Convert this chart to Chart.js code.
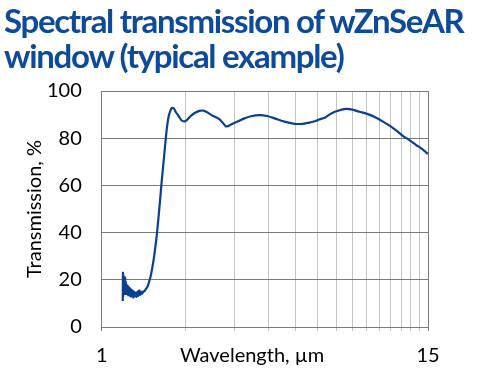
<!DOCTYPE html>
<html>
<head>
<meta charset="utf-8">
<script src="https://cdn.jsdelivr.net/npm/chart.js@4"></script>
<style>
  html, body { margin: 0; padding: 0; background: #fff; }
  #wrap { position: relative; width: 485px; height: 374px; overflow: hidden; }
  #title {
    position: absolute; left: 4px; top: 3px;
    font: bold 33px Lato, "Open Sans", sans-serif;
    letter-spacing: -1.3px;
    line-height: 35px; color: #0e4a9b; white-space: nowrap;
  }
  #specChart { position: absolute; left: 0; top: 0; }
</style>
</head>
<body>
<div id="wrap">
  <canvas id="specChart" width="485" height="374"></canvas>
  <div id="title">Spectral transmission of wZnSeAR<br>window (typical example)</div>
</div>
<script>
// Wavelength (um) and transmission (%)
const wavelength = [
  1.19, 1.192, 1.194, 1.196, 1.198, 1.201, 1.204, 1.207, 1.21, 1.213,
  1.217, 1.221, 1.225, 1.229, 1.234, 1.239, 1.244, 1.25, 1.256, 1.262,
  1.268, 1.275, 1.282, 1.29, 1.298, 1.306, 1.315, 1.324, 1.333, 1.343,
  1.353, 1.363, 1.374, 1.385, 1.397, 1.41, 1.425, 1.44, 1.46, 1.48,
  1.5, 1.52, 1.54, 1.56, 1.58, 1.6, 1.62, 1.645, 1.67, 1.695,
  1.715, 1.74, 1.765, 1.79, 1.82, 1.85, 1.89, 1.94, 2.0, 2.05,
  2.1, 2.17, 2.25, 2.32, 2.38, 2.45, 2.52, 2.59, 2.66, 2.74,
  2.8, 2.85, 2.9, 3.0, 3.1, 3.25, 3.45, 3.7, 3.95, 4.2,
  4.55, 4.95, 5.3, 5.6, 5.9, 6.0, 6.1, 6.4, 6.7, 7.1,
  7.6, 8.0, 8.5, 9.1, 9.8, 10.4, 11.0, 11.6, 12.2, 12.9,
  13.6, 14.3, 15
];
const transmission = [
  11, 23, 13, 22, 14, 21, 15, 20, 14, 21,
  15, 19, 14, 18, 14, 17.5, 13.5, 17, 13.5, 16.5,
  13, 16, 13, 15.5, 12.5, 15, 13, 14.5, 12.8, 15,
  13.2, 15.5, 13.6, 15, 14, 15, 15.2, 16, 17, 19,
  21.5, 25, 29, 34, 39.5, 46, 53, 62, 70, 78,
  84, 89, 91.5, 92.8, 92.6, 91, 89.5, 87.5, 87.2, 88.3,
  89.6, 90.8, 91.6, 91.7, 91.2, 90.3, 89.4, 88.8, 88, 86.3,
  85, 85.1, 85.6, 86.4, 87.2, 88.3, 89.3, 89.8, 89.4, 88.4,
  87, 86.1, 86.1, 86.6, 87.3, 87.6, 88, 88.8, 90.4, 91.6,
  92.4, 92.1, 91.2, 90.2, 88.6, 86.8, 85, 83, 80.9, 79.1,
  77.1, 75.4, 73.3
];
const xTicks = [1, 2, 3, 4, 5, 6, 7, 8, 9, 10, 11, 12, 13, 14, 15];
const xLabels = { 1: "1", 15: "15" };
const yTicks = [0, 20, 40, 60, 80, 100];

const points = wavelength.map((w, i) => ({ x: w, y: transmission[i] }));
const tickFont = { family: "Lato, 'Open Sans', sans-serif", size: 20 };

const ctx = document.getElementById("specChart").getContext("2d");
new Chart(ctx, {
  type: "line",
  data: {
    datasets: [{
      data: points,
      borderColor: "#0b3f92",
      borderWidth: 2.2,
      pointRadius: 0,
      tension: 0.25,
      fill: false
    }]
  },
  options: {
    responsive: false,
    animation: false,
    layout: { padding: { left: 4, right: 57, top: 91, bottom: 0 } },
    plugins: {
      legend: { display: false },
      tooltip: { enabled: false },
      title: { display: false }
    },
    scales: {
      x: {
        type: "logarithmic",
        min: 1,
        max: 15,
        afterBuildTicks: axis => { axis.ticks = xTicks.map(v => ({ value: v })); },
        ticks: {
          autoSkip: false,
          maxRotation: 0,
          color: "#000",
          font: tickFont,
          padding: 13,
          callback: v => xLabels[v] || ""
        },
        grid: {
          color: c => (c.tick && (c.tick.value === 1 || c.tick.value === 15)) ? "#7a7a7a" : "#c4c4c4",
          lineWidth: 1,
          tickLength: 4
        },
        border: { display: true, color: "#7a7a7a" },
        title: {
          display: true,
          text: "Wavelength, µm     ",
          color: "#000",
          font: tickFont,
          padding: { top: -37, bottom: 6 }
        }
      },
      y: {
        min: 0,
        max: 100,
        afterBuildTicks: axis => { axis.ticks = yTicks.map(v => ({ value: v })); },
        ticks: { color: "#000", font: tickFont, padding: 20 },
        grid: { color: "#7a7a7a", lineWidth: 1, drawTicks: false },
        border: { display: true, color: "#7a7a7a" },
        title: {
          display: true,
          text: "Transmission, %",
          color: "#000",
          font: tickFont,
          padding: { top: 19, bottom: -20 }
        }
      }
    }
  }
});
</script>
</body>
</html>
